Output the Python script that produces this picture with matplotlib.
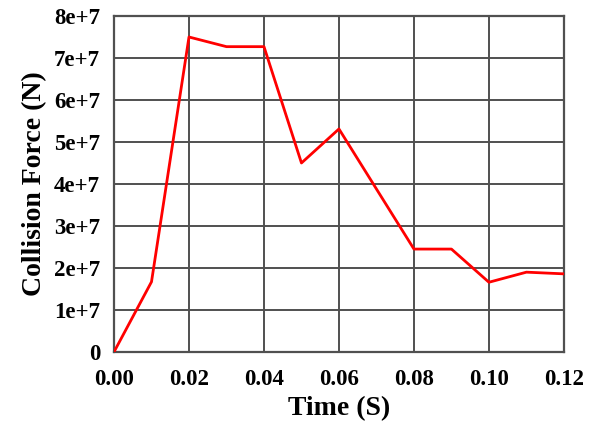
import numpy as np
import matplotlib.pyplot as plt

# collision force vs time
time_s = [0.00, 0.01, 0.02, 0.03, 0.04, 0.05, 0.06, 0.07, 0.08, 0.09, 0.10, 0.11, 0.12]
force_n = [0.0, 1.67e7, 7.5e7, 7.27e7, 7.27e7, 4.5e7, 5.31e7, 3.88e7, 2.45e7, 2.45e7, 1.66e7, 1.9e7, 1.86e7]

xticks = [0.00, 0.02, 0.04, 0.06, 0.08, 0.10, 0.12]
xtick_labels = ['0.00', '0.02', '0.04', '0.06', '0.08', '0.10', '0.12']
yticks = [0, 1e7, 2e7, 3e7, 4e7, 5e7, 6e7, 7e7, 8e7]
ytick_labels = ['0', '1e+7', '2e+7', '3e+7', '4e+7', '5e+7', '6e+7', '7e+7', '8e+7']

plt.rcParams['font.family'] = ['Liberation Serif', 'DejaVu Serif']
plt.rcParams['font.weight'] = 'bold'

fig = plt.figure(figsize=(6.08, 4.21), dpi=100)
ax = fig.add_axes([0.1875, 0.164, 0.740, 0.798])

ax.plot(time_s, force_n, color='#ff0000', lw=2, zorder=3)

ax.set_xlim(0, 0.12)
ax.set_ylim(0, 8e7)
ax.set_xticks(xticks)
ax.set_xticklabels(xtick_labels, fontsize=16.5, fontweight='bold')
ax.set_yticks(yticks)
ax.set_yticklabels(ytick_labels, fontsize=16.5, fontweight='bold')
ax.tick_params(axis='y', length=0, pad=10)
ax.tick_params(axis='x', length=0, pad=12)

ax.grid(True, color='#505050', lw=1.4)
for s in ax.spines.values():
    s.set_color('#505050')
    s.set_linewidth(1.6)

ax.set_xlabel('Time (S)', fontsize=20, fontweight='bold', labelpad=5)
ax.set_ylabel('Collision Force (N)', fontsize=20, fontweight='bold', labelpad=5)

fig.savefig('out.png', dpi=100)
